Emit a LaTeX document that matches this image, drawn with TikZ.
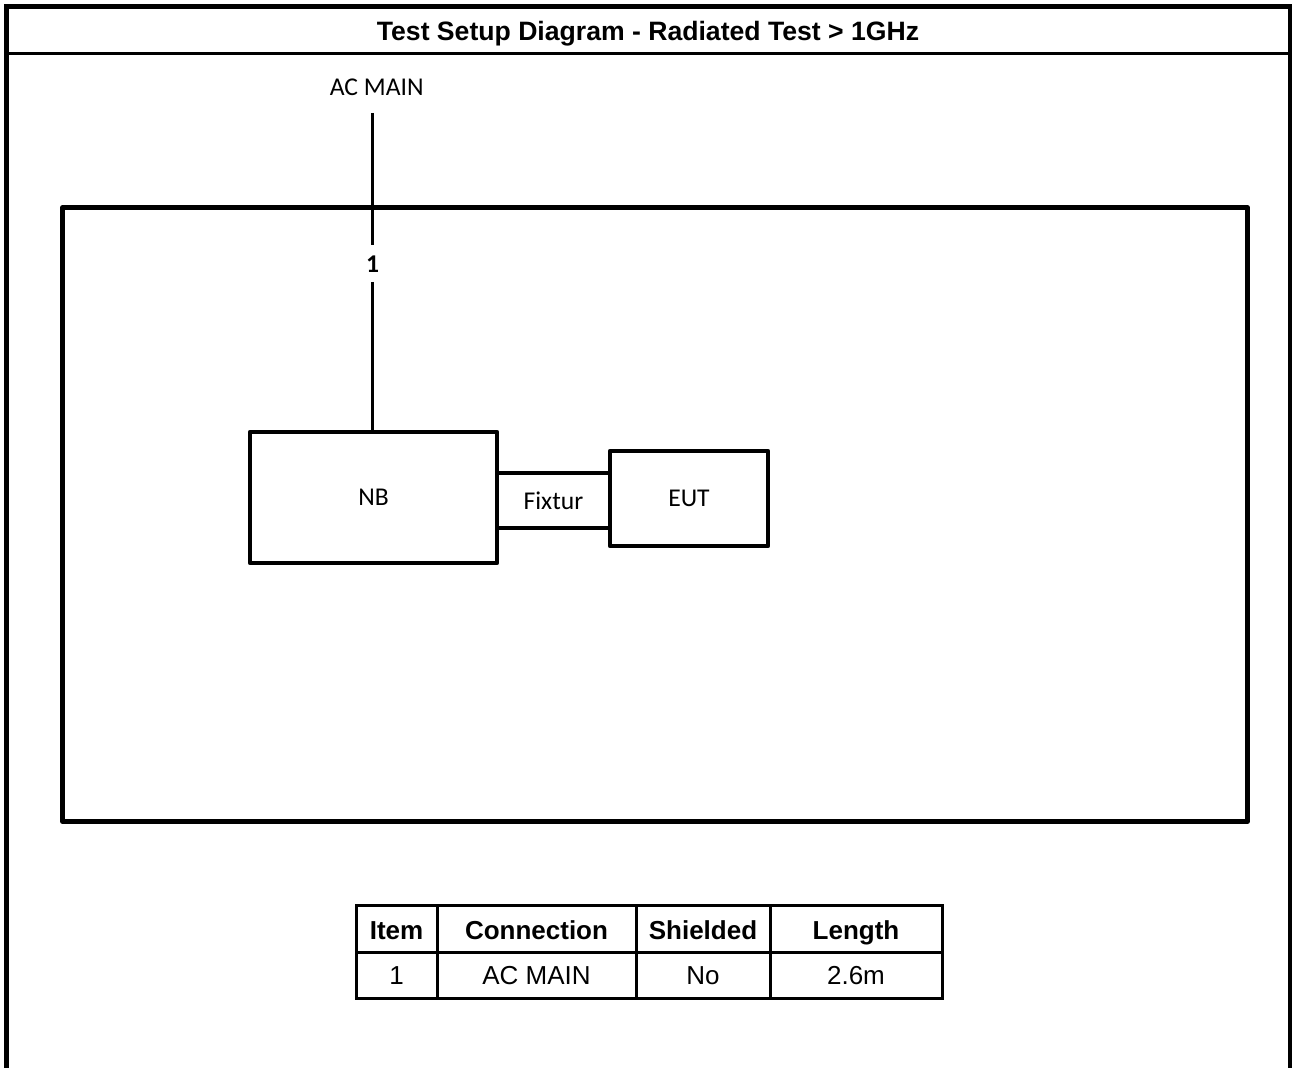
\documentclass[tikz,border=0pt]{standalone}
\usepackage{fontspec}
\setmainfont{Liberation Sans}
\newfontfamily\calibri{Carlito}
\begin{document}
\begin{tikzpicture}[x=0.5pt,y=-0.5pt,
  frame/.style={line width=2.25pt},
  box/.style={draw, line width=2.2pt, line join=round, rectangle, inner sep=0pt,
    font=\calibri\fontsize{12.8}{14}\selectfont},
  cable/.style={line width=1.5pt},
  lbl/.style={font=\calibri\fontsize{12.8}{14}\selectfont, inner sep=0pt},
  hdr/.style={font=\bfseries\fontsize{13}{15}\selectfont, inner sep=0pt, anchor=base},
  cell/.style={font=\fontsize{13}{15}\selectfont, inner sep=0pt, anchor=base},
  grid/.style={line width=1.5pt}]
\useasboundingbox (0,0) rectangle (1292,1068);
% outer frame
\draw[frame] (6.5,1080) -- (6.5,6.5) -- (1290,6.5) -- (1290,1080);
\draw[line width=1.75pt] (6.5,53.5) -- (1290,53.5);
\node[font=\bfseries\fontsize{13.3}{15}\selectfont, inner sep=0pt, anchor=base] (title) at (648,40.5)
  {Test Setup Diagram - Radiated Test > 1GHz};
% room
\node[draw, line width=2.25pt, line join=round, minimum width=592.5pt, minimum height=307pt, inner sep=0pt] (room) at (655,514.5) {};
% equipment
\node[box, minimum width=123.5pt, minimum height=65.5pt] (nb) at (373.5,497.5) {NB};
\node[box, minimum width=79pt, minimum height=47.5pt] (eut) at (689,498.5) {EUT};
\node[lbl, minimum height=27pt] (fix) at (553.5,500.5) {Fixtur};
\draw[line width=2.1pt] (nb.east |- fix.north) -- (eut.west |- fix.north);
\draw[line width=2.1pt] (nb.east |- fix.south) -- (eut.west |- fix.south);
% cable 1
\node[lbl, anchor=base] (acmain) at (376.7,96) {AC MAIN};
\coordinate (ctop) at (372.5,113);
\coordinate (c1) at (372.5,245);
\coordinate (c2) at (372.5,282);
\node[lbl, font=\calibri\bfseries\fontsize{12.8}{14}\selectfont, anchor=base] (one) at (372.5,272.7) {1};
\draw[cable] (ctop) -- (c1);
\draw[cable] (c2) -- (c2 |- nb.north);
% table
\draw[grid] (356,906) rectangle (942,999);
\draw[grid] (356,953) -- (942,953);
\draw[grid] (437,906) -- (437,999);
\draw[grid] (636,906) -- (636,999);
\draw[grid] (770,906) -- (770,999);
\node[hdr] (h1) at (396.5,940) {Item};
\node[hdr] (h2) at (536.5,940) {Connection};
\node[hdr] (h3) at (703,940) {Shielded};
\node[hdr] (h4) at (856,940) {Length};
\node[cell] (r1) at (396.5,984.5) {1};
\node[cell] (r2) at (536.5,984.5) {AC MAIN};
\node[cell] (r3) at (703,984.5) {No};
\node[cell] (r4) at (856,984.5) {2.6m};
\end{tikzpicture}
\end{document}
